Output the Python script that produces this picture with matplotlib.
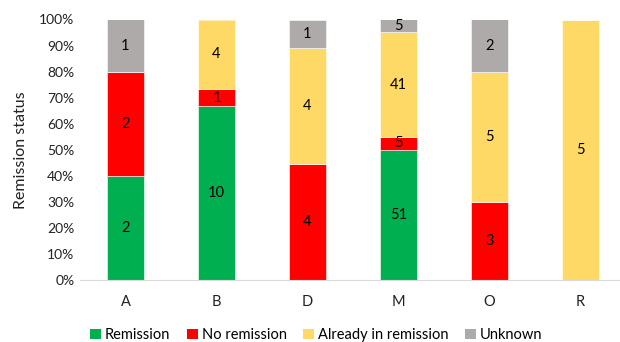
import matplotlib
matplotlib.use("Agg")
import matplotlib.pyplot as plt
from matplotlib.patches import Patch
import numpy as np

plt.rcParams['font.family'] = ['Lato', 'DejaVu Sans']

groups = ['A', 'B', 'D', 'M', 'O', 'R']
series = ['Remission', 'No remission', 'Already in remission', 'Unknown']
remission = [2, 10, 0, 51, 0, 0]
no_remission = [2, 1, 4, 5, 3, 0]
already = [0, 4, 4, 41, 5, 5]
unknown = [1, 0, 1, 5, 2, 0]
colors = ['#00B050', '#FF0000', '#FFD966', '#AEAAAA']

counts = np.array([remission, no_remission, already, unknown], dtype=float)
totals = counts.sum(axis=0)
shares = counts / totals * 100

fig = plt.figure(figsize=(6.2, 3.42), dpi=100)
ax = fig.add_axes([80 / 620, 1 - 280 / 342, 546 / 620, 260.5 / 342])

x = np.arange(len(groups))
bottom = np.zeros(len(groups))
for i, name in enumerate(series):
    ax.bar(x, shares[i], 0.4, bottom=bottom, color=colors[i],
           edgecolor='white', linewidth=0.4, label=name)
    for j in range(len(groups)):
        if counts[i, j] > 0:
            ax.text(x[j], bottom[j] + shares[i, j] / 2, f"{int(counts[i, j])}",
                    ha='center', va='center', fontsize=10.5, color='black')
    bottom += shares[i]

ax.set_xlim(-0.5, len(groups) - 0.5)
ax.set_ylim(0, 100)
ax.set_yticks(np.arange(0, 101, 10))
ax.set_yticklabels([f"{v}%" for v in range(0, 101, 10)], fontsize=10, color='#222222')
ax.set_xticks(x)
ax.set_xticklabels(groups, fontsize=10.5, color='#222222')
ax.tick_params(axis='both', length=0)
ax.tick_params(axis='x', pad=11)
ax.tick_params(axis='y', pad=4)
for s in ['top', 'right', 'left']:
    ax.spines[s].set_visible(False)
ax.spines['bottom'].set_color('#D9D9D9')
ax.set_ylabel('Remission status', fontsize=11.5, color='#222222', labelpad=8)

handles = [Patch(facecolor=c, edgecolor='none') for c in colors]
fig.legend(handles, series, loc='center', bbox_to_anchor=(0.51, 0.02), ncol=4,
           frameon=False, fontsize=10.5, handlelength=0.75, handleheight=0.75,
           handletextpad=0.25, columnspacing=1.15)

fig.savefig('out.png', dpi=100)
